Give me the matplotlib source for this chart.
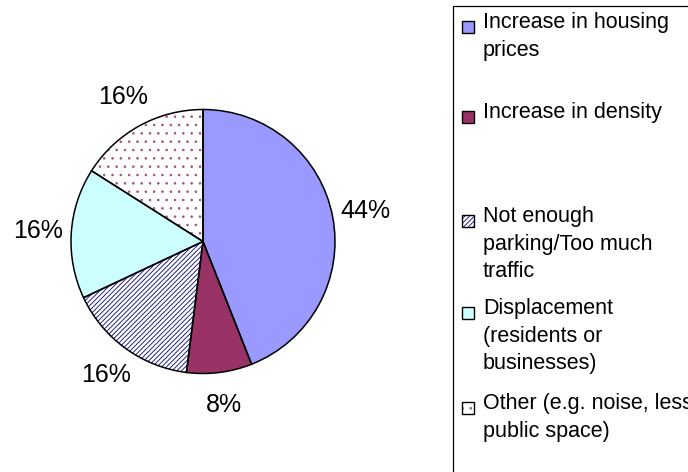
import matplotlib.pyplot as plt
from matplotlib.patches import Rectangle

# Survey shares (percent)
categories = ["Increase in housing\nprices",
              "Increase in density",
              "Not enough\nparking/Too much\ntraffic",
              "Displacement\n(residents or\nbusinesses)",
              "Other (e.g. noise, less\npublic space)"]
shares = [44, 8, 16, 16, 16]

fills = ["#9999FF", "#993366", "white", "#CCFFFF", "white"]
hatch_colors = ["#9999FF", "#993366", "#000080", "#CCFFFF", "#A0507A"]
hatches = [None, None, "///////", None, ".."]

plt.rcParams["font.family"] = ["Liberation Sans", "DejaVu Sans"]
plt.rcParams["hatch.linewidth"] = 0.6

W, H = 688, 472
fig = plt.figure(figsize=(W / 100, H / 100), dpi=100)

# Pie axes placed in pixel terms: centre (203, 241), radius 132
cx, cy, r = 203, 241.5, 132
ax = fig.add_axes([(cx - r) / W, (H - cy - r) / H, 2 * r / W, 2 * r / H])

# fills and hatching first, then the black outlines on top
wedges, _ = ax.pie(shares, colors=fills, startangle=90, counterclock=False,
                   wedgeprops=dict(linewidth=0))
for w, hc, h in zip(wedges, hatch_colors, hatches):
    w.set_edgecolor(hc)
    if h:
        w.set_hatch(h)

_, _, pct = ax.pie(shares, startangle=90, counterclock=False,
                   autopct="%.0f%%", pctdistance=1.25,
                   wedgeprops=dict(facecolor="none", edgecolor="black",
                                   linewidth=1.1))
for t in pct:
    t.set_fontsize(18)
    t.set_color("black")

ax.set_xlim(-1, 1)
ax.set_ylim(-1, 1)
ax.axis("off")

# Legend frame, running off the right and bottom edges
fig.patches.append(Rectangle((453 / W, -0.05), 0.5, (H - 6) / H + 0.05,
                             transform=fig.transFigure, facecolor="white",
                             edgecolor="black", linewidth=0.9, zorder=0))

cap_tops = [14, 104, 208, 300, 395]
for label, fc, hc, h, y in zip(categories, fills, hatch_colors, hatches, cap_tops):
    sq_y = (H - y - 19) / H
    fig.patches.append(Rectangle((462 / W, sq_y), 12 / W, 12 / H,
                                 transform=fig.transFigure, facecolor=fc,
                                 edgecolor=hc, linewidth=0, hatch=h))
    fig.patches.append(Rectangle((462 / W, sq_y), 12 / W, 12 / H,
                                 transform=fig.transFigure, facecolor="none",
                                 edgecolor="black", linewidth=1.0))
    fig.text(483 / W, (H - y + 2) / H, label, fontsize=15.5, va="top",
             ha="left", linespacing=1.42)

fig.savefig("out.png", dpi=100)
plt.close(fig)
